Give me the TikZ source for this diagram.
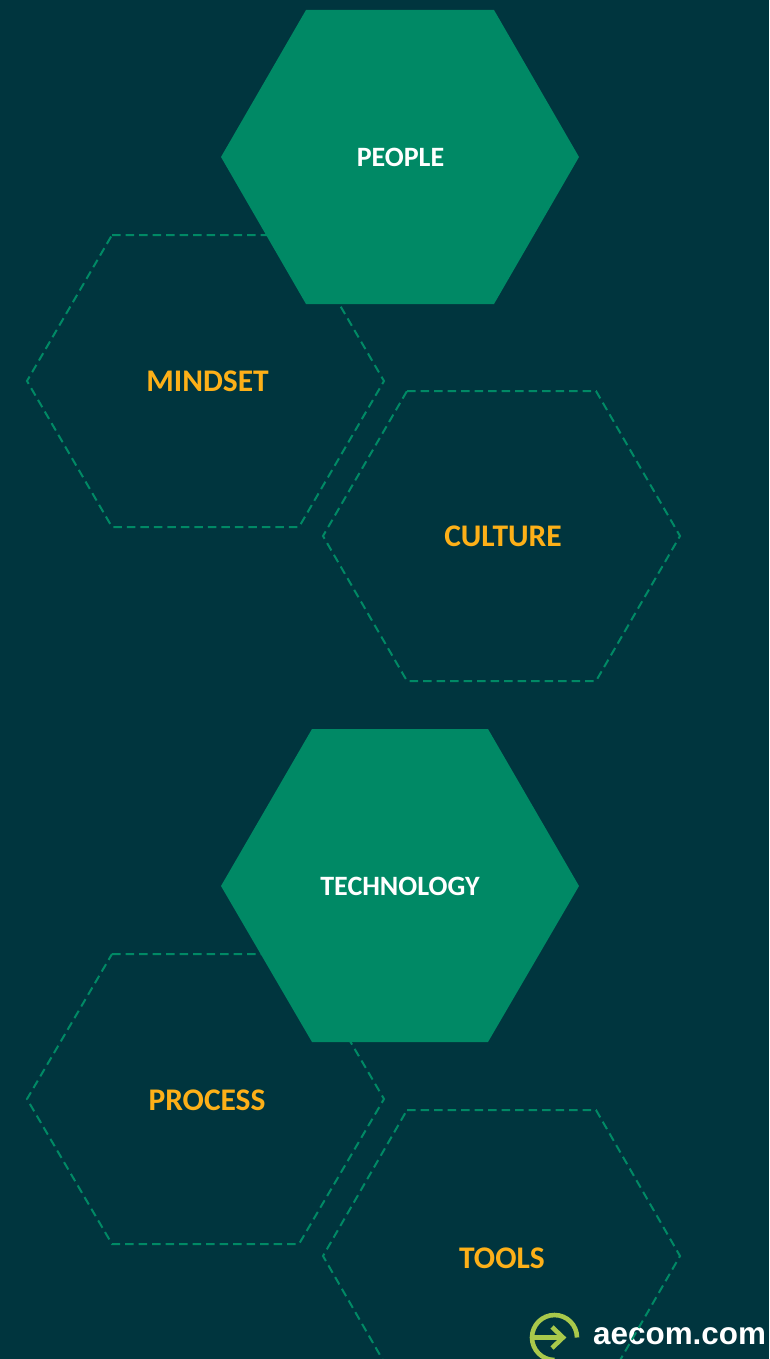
\documentclass[tikz,border=0pt]{standalone}
\usepackage{fontspec}
\setmainfont{Carlito}
\newfontfamily\logofont{Liberation Sans}
\definecolor{bgc}{HTML}{00353E}
\definecolor{hexc}{HTML}{008965}
\definecolor{orangec}{HTML}{FDB018}
\definecolor{logoc}{HTML}{A9C94B}
\tikzset{
  dashhex/.style={draw=hexc,line width=2pt,dash pattern=on 8.5pt off 5pt},
  solidhex/.style={fill=hexc},
  mainlabel/.style={text=white,font=\bfseries\fontsize{28}{30}\selectfont,inner sep=0pt},
  sublabel/.style={text=orangec,font=\bfseries\fontsize{31.5}{33}\selectfont,inner sep=0pt},
  logotext/.style={text=white,font=\logofont\bfseries\fontsize{31.4}{33}\selectfont,inner sep=0pt,anchor=base west},
  logoline/.style={draw=logoc,line width=4.6pt},
}
\begin{document}
\begin{tikzpicture}[x=1pt,y=-1pt]
\useasboundingbox (0,0) rectangle (769,1359);
\clip (0,0) rectangle (769,1359);
\fill[bgc] (0,0) rectangle (769,1359);
% logo
\draw[logoline] (577,1337.5) arc[start angle=0,end angle=-270,radius=22.5];
\draw[logoline] (532,1337.5) -- (564,1337.5);
\draw[logoline] (552,1327) -- (563,1337.5) -- (552,1348);
\node[logotext] (logo) at (593,1344.5) {aecom.com};
% dashed hexagons
\draw[dashhex] (112,235)--(299,235)--(384,381)--(299,527)--(112,527)--(27,381)--cycle;
\draw[dashhex] (407,391)--(596,391)--(680,536)--(596,681)--(407,681)--(323,536)--cycle;
\draw[dashhex] (112,954)--(299,954)--(384,1099)--(299,1244)--(112,1244)--(27,1099)--cycle;
\draw[dashhex] (407,1110)--(596,1110)--(680,1256)--(596,1402)--(407,1402)--(323,1256)--cycle;
% solid hexagons
\fill[solidhex] (306,10)--(494,10)--(579,157)--(494,304)--(306,304)--(221,157)--cycle;
\fill[solidhex] (312,729)--(488,729)--(579,886)--(488,1042)--(312,1042)--(221,886)--cycle;
% labels
\node[mainlabel] (people) at (400.5,157) {PEOPLE};
\node[mainlabel] (technology) at (400,886) {TECHNOLOGY};
\node[sublabel] (mindset) at (207.5,381) {MINDSET};
\node[sublabel] (culture) at (503,536) {CULTURE};
\node[sublabel] (process) at (207,1100) {PROCESS};
\node[sublabel] (tools) at (502,1258) {TOOLS};
\end{tikzpicture}
\end{document}
